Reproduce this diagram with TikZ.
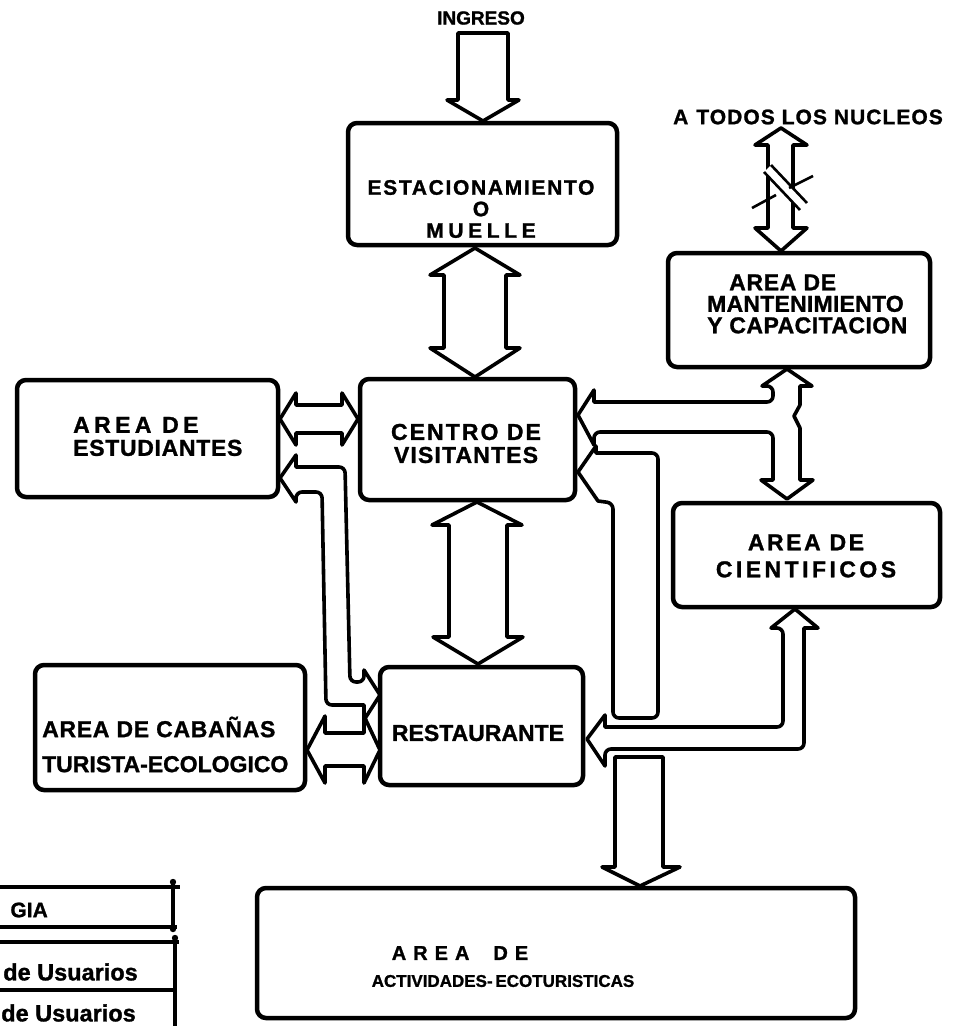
\documentclass[tikz,border=0pt]{standalone}
\usepackage{fontspec}
\setmainfont{Liberation Sans}[BoldFeatures={FakeBold=1.2}]
\newcommand\trk[1]{\addfontfeature{LetterSpace=#1}}
\tikzset{
  box/.style={draw, line width=4.5pt, rounded corners=9pt, inner sep=0pt, outer sep=0pt},
  blk/.style={draw, line width=3.6pt, fill=white, line join=round},
  lab/.style={font=\bfseries\fontsize{23}{23}\selectfont, inner sep=0pt, align=center},
  leg/.style={line width=3.5pt},
  brk/.style={line width=2.6pt},
}
\begin{document}
\begin{tikzpicture}[x=1pt,y=-1pt]
\useasboundingbox (0,0) rectangle (961,1026);

% boxes
\node[box, minimum width=269pt, minimum height=122pt] (est) at (482.5,184) {};
\node[box, minimum width=215pt, minimum height=121pt] (cen) at (467.5,439.5) {};
\node[box, minimum width=261pt, minimum height=117pt] (stu) at (147.5,438.5) {};
\node[box, minimum width=203pt, minimum height=118pt] (res) at (481.5,726) {};
\node[box, minimum width=270pt, minimum height=125pt] (cab) at (170,727.5) {};
\node[box, minimum width=598pt, minimum height=130pt] (act) at (556,953) {};
\node[box, minimum width=262pt, minimum height=114pt] (man) at (799,310) {};
\node[box, minimum width=267pt, minimum height=104pt] (cie) at (806.5,555) {};

% labels
\node[lab, font=\bfseries\fontsize{19}{20}\selectfont] (ingreso) at (481,18) {INGRESO};
\node[lab, font=\bfseries\fontsize{21}{21.5}\selectfont] (estL) at (481,209)
  {{\trk{8}ESTACIONAMIENTO}\\O\\{\trk{22}MUELLE}};
\node[lab] (cenL) at (466,443.5) {{\trk{9}CENTRO DE}\\{\trk{5}VISITANTES}};
\node[lab, align=left, anchor=west] (stuL) at (73,436.5) {{\trk{19}AREA DE}\\{\trk{3}ESTUDIANTES}};
\node[lab] (resL) at (478,733) {RESTAURANTE};
\node[lab, align=left, anchor=west, font=\bfseries\fontsize{23}{35}\selectfont] (cabL) at (42,744.5)
  {{\trk{3}AREA DE CABAÑAS}\\TURISTA-ECOLOGICO};
\node[lab, font=\bfseries\fontsize{20}{21}\selectfont] (actA) at (460,953) {\trk{35}AREA\hspace{24pt}DE};
\node[lab, font=\bfseries\fontsize{17}{19}\selectfont] (actB) at (503,981) {ACTIVIDADES-\,ECOTURISTICAS};
\node[lab, align=left, anchor=west, font=\bfseries\fontsize{23}{21.5}\selectfont] (manL) at (707,304)
  {\hspace*{22pt}{\trk{3}AREA DE}\\{\trk{1}MANTENIMIENTO}\\{\trk{2}Y CAPACITACION}};
\node[lab, font=\bfseries\fontsize{23}{27}\selectfont] (cieL) at (806,556) {{\trk{11}AREA DE}\\{\trk{15}CIENTIFICOS}};
\node[lab, font=\bfseries\fontsize{21}{23}\selectfont] (nuc) at (808,117) {\trk{5}A\hspace{8pt}TODOS LOS NUCLEOS};

% block arrows
% ingreso
\draw[blk] (458,33) -- (508,33) -- (508,100) -- (519,100) -- (483,121) -- (447,100) -- (458,100) -- cycle;
% est <-> cen
\draw[blk] (475,248) -- (520,275) -- (506,275) -- (506,348) -- (520,348) -- (475,377)
  -- (430,348) -- (444,348) -- (444,275) -- (430,275) -- cycle;
% cen <-> res
\draw[blk] (477,502) -- (522,525) -- (507,525) -- (507,637) -- (523,637) -- (478,664)
  -- (433,637) -- (449,637) -- (449,525) -- (432,525) -- cycle;
% stu <-> cen
\draw[blk] (280,419) -- (296,393) -- (296,405) -- (342,405) -- (342,393) -- (358,419)
  -- (342,445) -- (342,433) -- (296,433) -- (296,445) -- cycle;
% stu <-> res
\draw[blk] (280,478) -- (296,455) -- (296,467) [rounded corners=6pt] -- (345,467) -- (350,682)
  -- (364,682) [sharp corners] -- (364,670) -- (380,695) -- (364,720) -- (364,705)
  [rounded corners=6pt] -- (326,705) -- (322,492) -- (296,492) [sharp corners] -- (296,502) -- cycle;
% cab <-> res
\draw[blk] (307,750) -- (325,716) -- (325,733) -- (364,733) -- (364,716) -- (380,750)
  -- (364,783) -- (364,766) -- (325,766) -- (325,783) -- cycle;
% cen <-> man / cie
\draw[blk] (578,415) -- (594,390) -- (594,402) [rounded corners=6pt] -- (773,402) -- (773,386)
  [sharp corners] -- (762,386) -- (787,369) -- (812,386) -- (800,386) -- (800,405) -- (794,416)
  -- (800,428) -- (800,480) -- (813,480) -- (787,499) -- (761,480) -- (773,480)
  [rounded corners=6pt] -- (773,432) -- (594,432) [sharp corners] -- (594,445) -- cycle;
% second centro arrow
\draw[blk] (578,472) -- (596,446) -- (596,453) [rounded corners=6pt] -- (658,453) -- (658,718)
  -- (613,718) -- (613,503) [sharp corners] -- (598,501) -- cycle;
% res <-> cie
\draw[blk] (587,739) -- (605,715) -- (605,727) [rounded corners=6pt] -- (783,727) -- (783,628)
  [sharp corners] -- (771,628) -- (795,609) -- (818,628) -- (804,628) [rounded corners=6pt]
  -- (804,749) -- (605,749) [sharp corners] -- (605,766) -- cycle;
% res -> act
\draw[blk] (615,757) -- (663,757) -- (663,867) -- (680,867) -- (640,886) -- (602,867) -- (615,867) -- cycle;
% a todos los nucleos
\draw[blk] (781,128) -- (807,145) -- (793,145) -- (793,228) -- (807,228) -- (781,251)
  -- (755,228) -- (768,228) -- (768,145) -- (755,145) -- cycle;
\fill[white] (764,172) -- (771,165) -- (807,203) -- (800,210) -- cycle;
\draw[brk] (764,172) -- (800,210);
\draw[brk] (771,165) -- (807,203);
\draw[brk] (752,208) -- (776,195);
\draw[brk] (789,188) -- (813,176);

% legend (cut off at the page edge)
\draw[leg] (0,887) -- (180,887);
\draw[leg] (173,881) -- (173,931);
\draw[leg] (0,927) -- (177,927);
\draw[leg] (0,942) -- (179,942);
\draw[leg] (175,937) -- (175,1026);
\draw[leg] (0,990) -- (175,990);
\fill (173,882) circle (3.2);
\fill (173,929) circle (3.2);
\fill (175,938) circle (3.2);
\node[lab, anchor=east, font=\bfseries\fontsize{21}{23}\selectfont] (legA) at (48,910) {GIA};
\node[lab, anchor=east, font=\bfseries\fontsize{23.5}{25}\selectfont] (legB) at (138,972) {de Usuarios};
\node[lab, anchor=east, font=\bfseries\fontsize{23.5}{25}\selectfont] (legC) at (136,1013) {de Usuarios};
\end{tikzpicture}
\end{document}
